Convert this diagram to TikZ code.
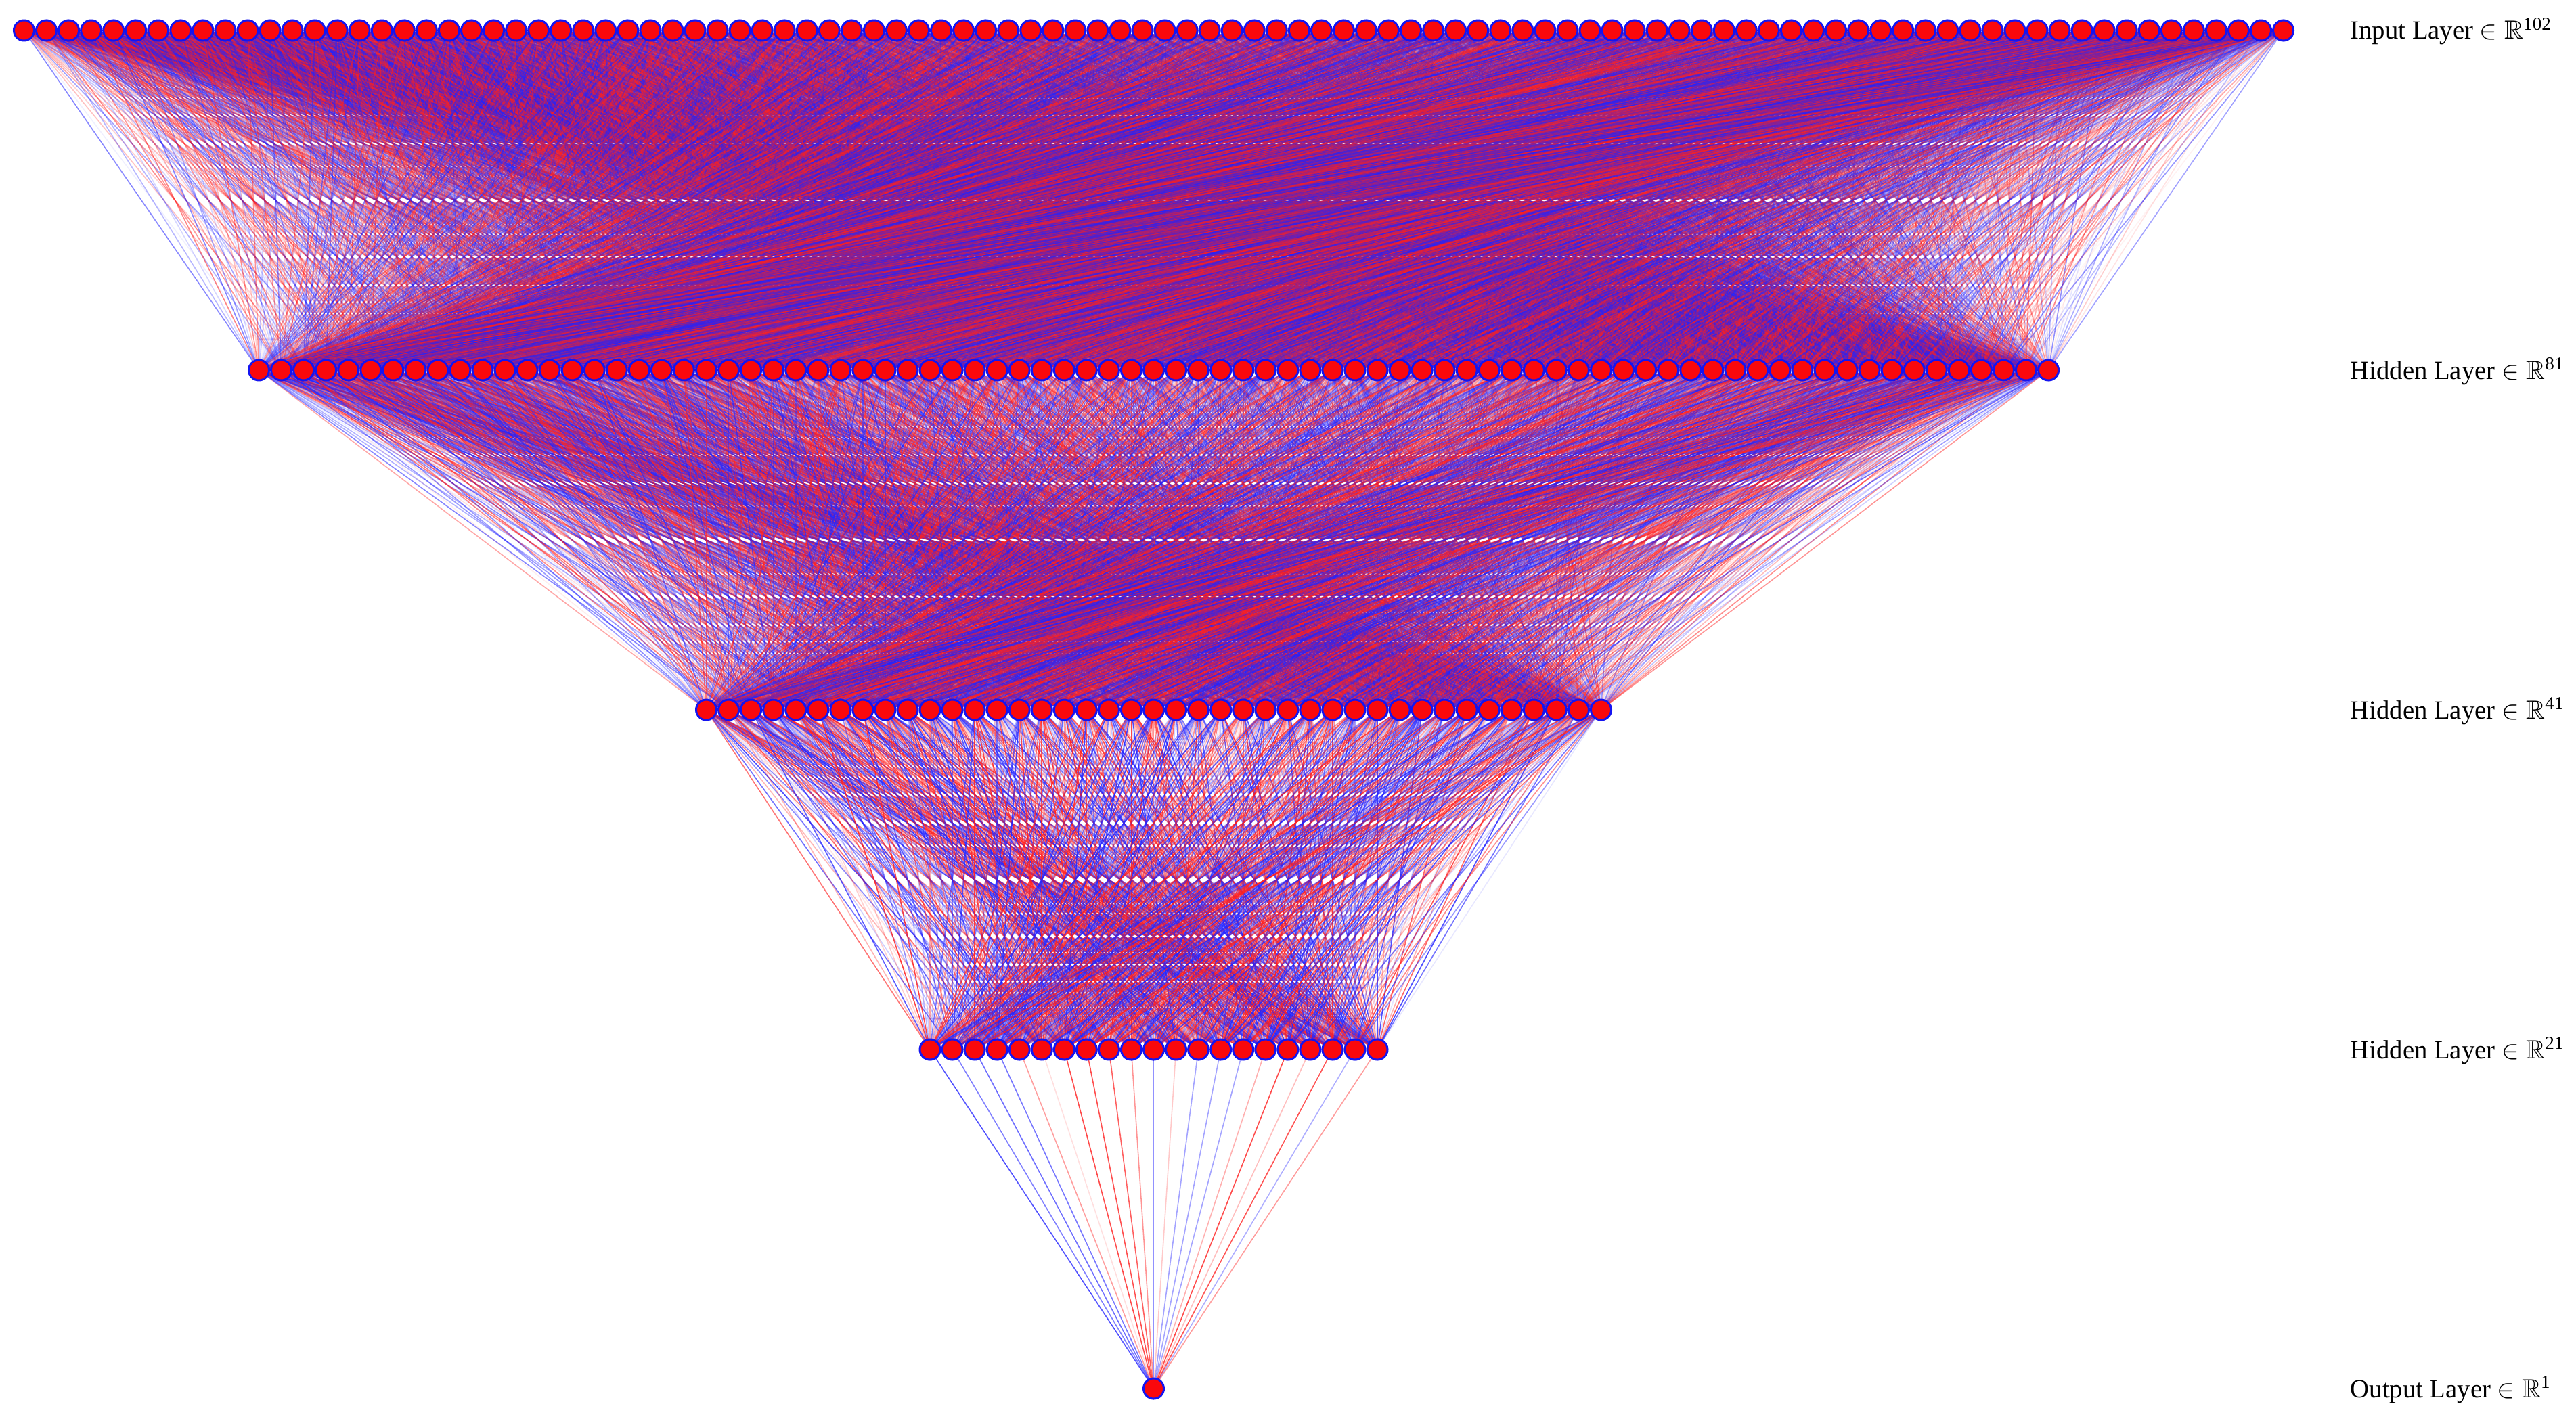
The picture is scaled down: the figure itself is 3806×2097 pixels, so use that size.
\documentclass[tikz,border=0pt]{standalone}
\usepackage{amssymb}
\usepackage{fontspec}
\setmainfont{Liberation Serif}
\pgfdeclarelayer{background}
\pgfsetlayers{background,main}
\definecolor{wred}{RGB}{255,30,30}
\definecolor{wblue}{RGB}{35,35,255}
\tikzset{
  neuron/.style={circle, minimum size=0.30cm, inner sep=0pt, fill={rgb,255:red,250;green,8;blue,12}, draw={rgb,255:red,20;green,20;blue,240}, line width=0.85pt},
  layerlabel/.style={anchor=base west, inner sep=0pt, font=\fontsize{11pt}{13pt}\selectfont},
  wire/.style={line width=0.45pt}
}
% #1 = min opacity (x100), #2 = max opacity (x100), #3 source, #4 target
\newcommand{\wireedge}[4]{%
  \pgfmathrandominteger{\wrc}{0}{9}%
  \pgfmathrandominteger{\wro}{#1}{#2}%
  \ifnum\wrc<5 \def\wcol{wred}\else\def\wcol{wblue}\fi
  \ifnum\wro<10 \edef\wop{0.0\wro}\else\edef\wop{0.\wro}\fi
  \draw[wire, draw=\wcol, draw opacity=\wop] (#3.center) -- (#4.center);%
}
\begin{document}
\begin{tikzpicture}[x=0.01cm, y=-0.01cm]
\useasboundingbox (0,0) rectangle (3806,2097);
\pgfmathsetseed{7}
% nodes
\foreach \k in {1,...,102}{\node[neuron] (i\k) at ({1704.5+(\k-51.5)*33.05},45) {};}
\foreach \k in {1,...,81}{\node[neuron] (a\k) at ({1704.5+(\k-41)*33.05},547) {};}
\foreach \k in {1,...,41}{\node[neuron] (b\k) at ({1704.5+(\k-21)*33.05},1049) {};}
\foreach \k in {1,...,21}{\node[neuron] (c\k) at ({1704.5+(\k-11)*33.05},1551) {};}
\node[neuron] (o) at (1704.5,2052) {};
% labels
\node[layerlabel] (l1) at (3472,58) {Input Layer $\in\mathbb{R}$\textsuperscript{102}};
\node[layerlabel] (l2) at (3472,560) {Hidden Layer $\in\mathbb{R}$\textsuperscript{81}};
\node[layerlabel] (l3) at (3472,1062) {Hidden Layer $\in\mathbb{R}$\textsuperscript{41}};
\node[layerlabel] (l4) at (3472,1564) {Hidden Layer $\in\mathbb{R}$\textsuperscript{21}};
\node[layerlabel] (l5) at (3472,2065) {Output Layer $\in\mathbb{R}$\textsuperscript{1}};
% connections
\begin{pgfonlayer}{background}
\foreach \p in {1,...,102}{\foreach \q in {1,...,81}{\wireedge{4}{55}{i\p}{a\q}}}
\foreach \p in {1,...,81}{\foreach \q in {1,...,41}{\wireedge{5}{65}{a\p}{b\q}}}
\foreach \p in {1,...,41}{\foreach \q in {1,...,21}{\wireedge{10}{85}{b\p}{c\q}}}
\foreach \p in {1,...,21}{\wireedge{10}{85}{c\p}{o}}
\end{pgfonlayer}
\end{tikzpicture}
\end{document}
